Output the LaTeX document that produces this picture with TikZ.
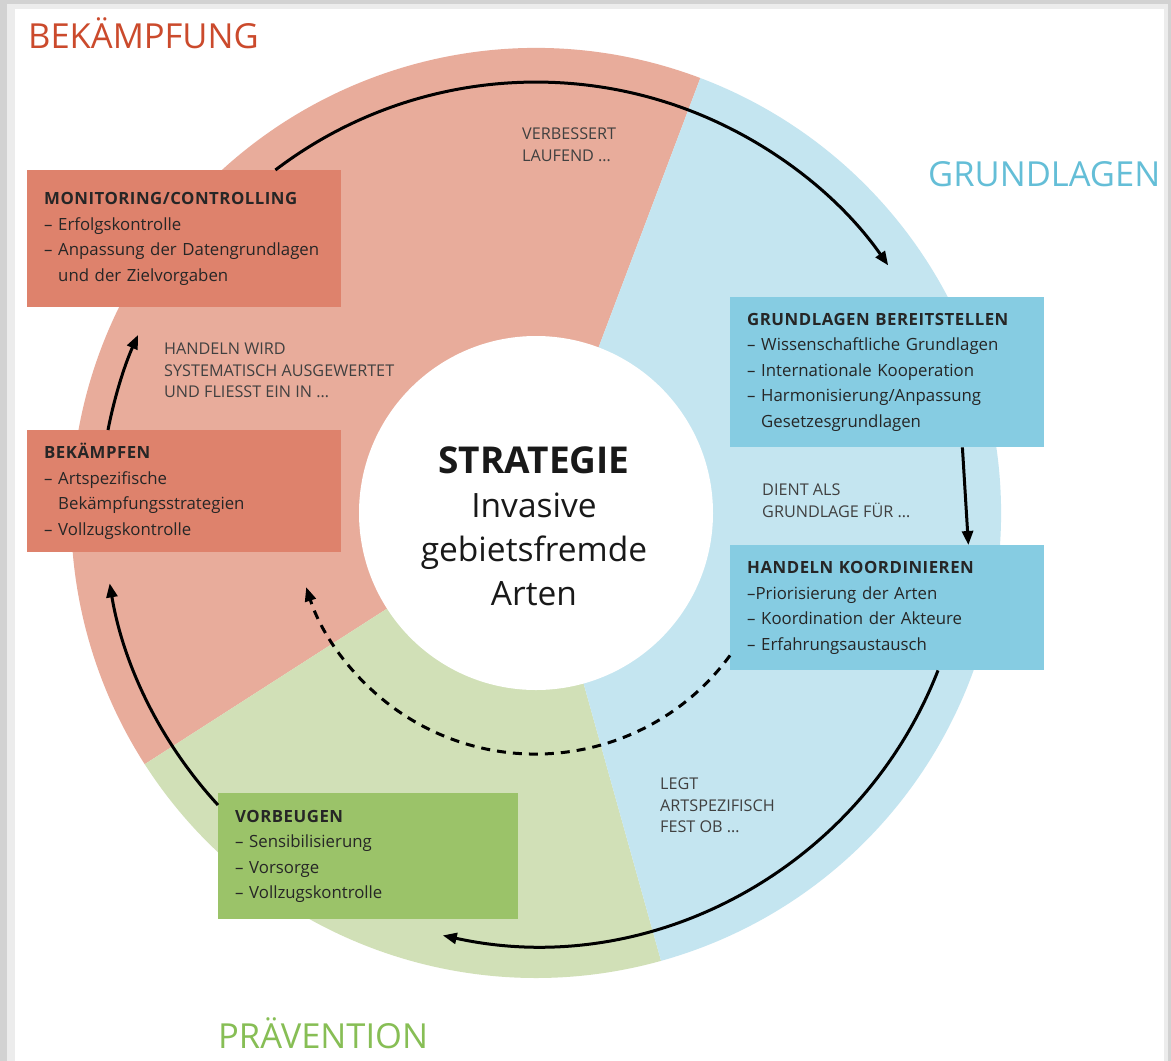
\documentclass[tikz,border=0pt]{standalone}
\usepackage{fontspec}
\setmainfont{Open Sans}
\usetikzlibrary{arrows.meta}

\definecolor{redlight}{RGB}{232,172,155}
\definecolor{redbox}{RGB}{222,130,108}
\definecolor{bluelight}{RGB}{196,229,240}
\definecolor{bluebox}{RGB}{134,204,226}
\definecolor{greenlight}{RGB}{209,224,183}
\definecolor{greenbox}{RGB}{155,195,105}
\definecolor{titlered}{RGB}{203,74,44}
\definecolor{titleblue}{RGB}{100,190,215}
\definecolor{titlegreen}{RGB}{135,190,85}

\newcommand{\ttl}[1]{{\bfseries\addfontfeature{LetterSpace=3}#1}}
\newcommand{\cont}{\phantom{– }}

\begin{document}
\begin{tikzpicture}[x=1pt,y=-1pt,
    box/.style={anchor=north west, inner xsep=17pt, inner ysep=0pt, align=left,
      font=\fontsize{16.8}{25.5}\selectfont, text=black!85},
    lbl/.style={anchor=north west, inner sep=0pt, align=left,
      font=\fontsize{16.2}{21.5}\selectfont, text=black!75},
    heading/.style={anchor=base west, inner sep=0pt, font=\fontsize{34.5}{40}\selectfont},
    arr/.style={line width=3pt, -{Triangle[length=14pt,width=11pt]}}]
\useasboundingbox (0,0) rectangle (1171,1061);
% frame
    \fill[gray!35] (0,0) rectangle (1171,1061);
    \fill[gray!15] (7,4) rectangle (1168,1061);
    \fill[white] (15,9) rectangle (1164,1061);
    \coordinate (c) at (536,513);
% ring
    \fill[redlight] (c) -- ++(-69.3:465) arc[start angle=-69.3, end angle=-212.7, radius=465] -- cycle;
    \fill[greenlight] (c) -- ++(-212.7:465) arc[start angle=-212.7, end angle=-285.6, radius=465] -- cycle;
    \fill[bluelight] (c) -- ++(-285.6:465) arc[start angle=-285.6, end angle=-429.3, radius=465] -- cycle;
    \node[circle, fill=white, minimum size=354pt, inner sep=0pt] (core) at (c) {};
    \node[align=center, inner sep=0pt, font=\fontsize{33.5}{44}\selectfont, text=black!90] (strat) at (534,526)
      {{\fontsize{37}{44}\selectfont\bfseries STRATEGIE}\\Invasive\\gebietsfremde\\Arten};
% headings
    \node[heading, text=titlered] (tbek) at (28,48) {BEKÄMPFUNG};
    \node[heading, text=titleblue] (tgrund) at (928,186) {GRUNDLAGEN};
    \node[heading, text=titlegreen] (tprae) at (218,1048) {PRÄVENTION};
% boxes
    \node[box, fill=redbox, text width=280pt, minimum height=137pt] (mon) at (27,170)
      {\ttl{MONITORING/CONTROLLING}\\
       – Erfolgskontrolle\\
       – Anpassung der Datengrundlagen\\
       \cont und der Zielvorgaben};
    \node[box, fill=redbox, text width=280pt, minimum height=122pt] (bek) at (27,430)
      {\ttl{BEKÄMPFEN}\\
       – Artspezifische\\
       \cont Bekämpfungsstrategien\\
       – Vollzugskontrolle};
    \node[box, fill=bluebox, text width=280pt, minimum height=150pt] (grund) at (730,297)
      {\ttl{GRUNDLAGEN BEREITSTELLEN}\\
       – Wissenschaftliche Grundlagen\\
       – Internationale Kooperation\\
       – Harmonisierung/Anpassung\\
       \cont Gesetzesgrundlagen};
    \node[box, fill=bluebox, text width=280pt, minimum height=125pt] (hand) at (730,545)
      {\ttl{HANDELN KOORDINIEREN}\\
       –Priorisierung der Arten\\
       – Koordination der Akteure\\
       – Erfahrungsaustausch};
    \node[box, fill=greenbox, text width=266pt, minimum height=126pt] (vorb) at (218,793)
      {\ttl{VORBEUGEN}\\
       – Sensibilisierung\\
       – Vorsorge\\
       – Vollzugskontrolle};
% arrows
    \draw[arr] ([xshift=-66pt]mon.north east) arc[start angle=-127.3, end angle=-35, radius=430];
    \draw[arr] ([xshift=-82pt]grund.south east) -- ([xshift=-76pt]hand.north east);
    \draw[arr] ([xshift=208pt]hand.south west) arc[start angle=21.3, end angle=102.4, radius=432];
    \draw[arr] ([yshift=-12pt]vorb.north west) arc[start angle=-222.6, end angle=-189.5, radius=433];
    \draw[arr] ([xshift=81pt]bek.north west) arc[start angle=-169, end angle=-156, radius=440];
    \draw[arr, dash pattern=on 9pt off 7pt] ([yshift=15pt]hand.south west) arc[start angle=36.2, end angle=162.1, radius=241];
% labels
    \node[lbl] (verb) at (522,128) {VERBESSERT\\LAUFEND …};
    \node[lbl] (ausw) at (164,343) {HANDELN WIRD\\SYSTEMATISCH AUSGEWERTET\\UND FLIESST EIN IN …};
    \node[lbl] (dient) at (762,484) {DIENT ALS\\GRUNDLAGE FÜR …};
    \node[lbl] (legt) at (660,778) {LEGT\\ARTSPEZIFISCH\\FEST OB …};
\end{tikzpicture}
\end{document}
